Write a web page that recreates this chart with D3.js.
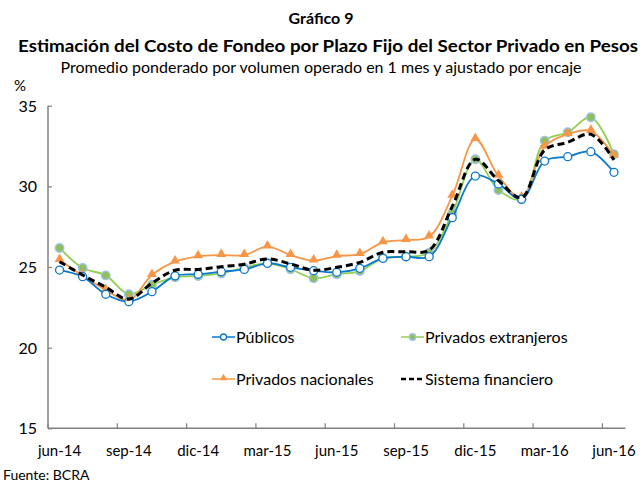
<!DOCTYPE html>
<html>
<head>
<meta charset="utf-8">
<script src="https://cdn.jsdelivr.net/npm/d3@7"></script>
<style>
  body { margin: 0; background: #fff; }
  svg text { font-family: Lato, "Open Sans", sans-serif; fill: #000; }
</style>
</head>
<body>
<div id="chart"></div>
<script>
var months = ["jun-14","jul-14","ago-14","sep-14","oct-14","nov-14","dic-14",
  "ene-15","feb-15","mar-15","abr-15","may-15","jun-15","jul-15","ago-15","sep-15",
  "oct-15","nov-15","dic-15","ene-16","feb-16","mar-16","abr-16","may-16","jun-16"];

var publicos = [24.81,24.4,23.31,22.85,23.47,24.45,24.55,24.71,24.85,25.23,24.98,24.77,24.67,
  24.92,25.54,25.64,25.64,28.06,30.64,30.15,29.2,31.57,31.84,32.15,30.87];
var extranjeros = [26.18,24.94,24.48,23.31,23.9,24.36,24.44,24.6,24.96,25.23,24.86,24.3,24.55,
  24.75,25.54,25.64,25.89,28.33,31.68,29.77,29.2,32.83,33.35,34.28,31.99];
var nacionales = [25.43,24.46,23.57,22.95,24.5,25.33,25.66,25.74,25.74,26.26,25.74,25.39,25.68,
  25.8,26.53,26.67,26.88,29.4,32.92,30.64,29.3,32.46,33.23,33.43,31.88];
var sistema = [25.33,24.5,23.75,23.0,24.0,24.8,24.85,25.02,25.17,25.5,25.19,24.8,24.98,
  25.29,25.91,25.95,26.05,28.75,31.68,30.35,29.3,32.25,32.73,33.23,31.63];

var yTicks = [15,20,25,30,35];
var xLabelMonths = ["jun-14","sep-14","dic-14","mar-15","jun-15","sep-15","dic-15","mar-16","jun-16"];

var width = 642, height = 483;
var plotLeft = 48, plotRight = 625.5, plotTop = 105.7, plotBottom = 428.3;

var svg = d3.select("#chart").append("svg")
  .attr("width", width)
  .attr("height", height);

// titles
svg.append("text").attr("x", 321).attr("y", 24).attr("text-anchor", "middle")
  .attr("font-weight", "bold").attr("font-size", 16).text("Gráfico 9");
svg.append("text").attr("x", 18).attr("y", 52)
  .attr("font-weight", "bold").attr("font-size", 17)
  .attr("textLength", 620).attr("lengthAdjust", "spacingAndGlyphs")
  .text("Estimación del Costo de Fondeo por Plazo Fijo del Sector Privado en Pesos");
svg.append("text").attr("x", 321).attr("y", 73).attr("text-anchor", "middle")
  .attr("font-size", 16)
  .text("Promedio ponderado por volumen operado en 1 mes y ajustado por encaje");
svg.append("text").attr("x", 14).attr("y", 91).attr("font-size", 15).text("%");

var x = d3.scaleBand().domain(months).range([plotLeft, plotRight]);
var y = d3.scaleLinear().domain([15, 35]).range([plotBottom, plotTop]);

// y axis
var yAxis = svg.append("g").attr("transform", "translate(" + plotLeft + ",0)")
  .call(d3.axisRight(y).tickValues(yTicks).tickSize(4).tickFormat(d3.format("d")));
yAxis.select(".domain").attr("stroke", "#808080").attr("stroke-width", 1.5)
  .attr("d", "M0," + plotTop + "V" + plotBottom);
yAxis.selectAll(".tick line").attr("stroke", "#808080").attr("stroke-width", 1.2);
yAxis.selectAll(".tick text").attr("x", -11).attr("text-anchor", "end")
  .attr("font-size", 16).attr("dy", "0.35em");

// x axis: ticks between every 3 months, labels at the month
var xg = svg.append("g");
xg.append("line").attr("x1", plotLeft).attr("x2", plotRight).attr("y1", plotBottom).attr("y2", plotBottom)
  .attr("stroke", "#808080").attr("stroke-width", 1.5);
var tickPos = d3.range(0, months.length + 1, 3).map(function(i) { return plotLeft + i * x.step(); });
xg.selectAll("line.tk").data(tickPos).enter().append("line").attr("class", "tk")
  .attr("x1", function(d) { return d; }).attr("x2", function(d) { return d; })
  .attr("y1", plotBottom).attr("y2", plotBottom - 5)
  .attr("stroke", "#808080").attr("stroke-width", 1.2);
xg.selectAll("text").data(xLabelMonths).enter().append("text")
  .attr("x", function(d) { return x(d) + x.bandwidth() / 2; })
  .attr("y", 456).attr("text-anchor", "middle").attr("font-size", 15)
  .text(function(d) { return d; });

svg.append("text").attr("x", 3).attr("y", 480).attr("font-size", 14).text("Fuente: BCRA");

function cx(d, i) { return x(months[i]) + x.bandwidth() / 2; }
var line = d3.line().x(cx).y(function(d) { return y(d); }).curve(d3.curveCatmullRom.alpha(0.5));

var series = [
  {name: "Públicos", values: publicos, color: "#0a78cc", width: 1.8, marker: "open"},
  {name: "Privados extranjeros", values: extranjeros, color: "#92d050", width: 1.8, marker: "green"},
  {name: "Privados nacionales", values: nacionales, color: "#f79646", width: 1.8, marker: "tri"},
  {name: "Sistema financiero", values: sistema, color: "#000", width: 3, dash: "7,4"}
];

function drawMarker(g, s, px, py, small) {
  var k = small ? 0.75 : 1;
  if (s.marker === "open") {
    g.append("circle").attr("cx", px).attr("cy", py).attr("r", 4 * k)
      .attr("fill", "#fff").attr("stroke", s.color).attr("stroke-width", 1.3);
  } else if (s.marker === "green") {
    g.append("circle").attr("cx", px).attr("cy", py).attr("r", 4.2 * k)
      .attr("fill", "#8fbf58").attr("stroke", "#9dc3e6").attr("stroke-width", 1.5);
  } else if (s.marker === "tri") {
    g.append("path").attr("d", d3.symbol(d3.symbolTriangle, 42 * k * k)())
      .attr("transform", "translate(" + px + "," + (py - 1) + ")")
      .attr("fill", s.color);
  }
}

// draw order: green, orange, blue, black
[series[1], series[2], series[0], series[3]].forEach(function(s) {
  var g = svg.append("g");
  g.append("path").datum(s.values).attr("d", line)
    .attr("fill", "none").attr("stroke", s.color).attr("stroke-width", s.width)
    .attr("stroke-dasharray", s.dash || null);
  if (s.marker) {
    s.values.forEach(function(v, i) { drawMarker(g, s, cx(v, i), y(v)); });
  }
});

// legend
var legendPos = [[212, 337], [401, 337], [212, 379], [401, 379]];
series.forEach(function(s, i) {
  var lx = legendPos[i][0], ly = legendPos[i][1];
  var g = svg.append("g");
  g.append("line").attr("x1", lx).attr("x2", lx + 23).attr("y1", ly).attr("y2", ly)
    .attr("stroke", s.color).attr("stroke-width", s.dash ? 2.5 : 1.5)
    .attr("stroke-dasharray", s.dash ? "5,3" : null);
  if (s.marker) drawMarker(g, s, lx + 11.5, ly, true);
  g.append("text").attr("x", lx + 24).attr("y", ly).attr("dy", "0.35em")
    .attr("font-size", 16).text(s.name);
});
</script>
</body>
</html>
